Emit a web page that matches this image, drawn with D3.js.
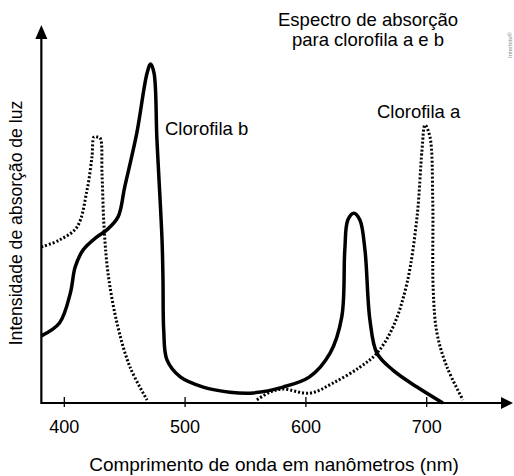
<!DOCTYPE html>
<html>
<head>
<meta charset="utf-8">
<script src="https://cdn.jsdelivr.net/npm/d3@7"></script>
<style>
  body { margin: 0; background: #fff; }
  text { font-family: "Liberation Sans", Arial, sans-serif; fill: #000; }
</style>
</head>
<body>
<div id="chart"></div>
<script>
// wavelength (nm) and relative absorption
const chlBWave = [381, 396, 405, 409, 415.5, 427, 435, 444.5, 450, 460, 468.5, 471.5, 474.3, 476.7, 480.9, 481.7, 482.3, 485, 496, 515, 537, 554, 581, 603, 620, 629.7, 632.2, 634.7, 639.7, 644.7, 648.9, 653, 658.8, 672, 692, 713.4];
const chlBValue = [19.8, 23.6, 32.4, 40.1, 45.1, 49, 51, 54.9, 63.7, 79.6, 97.3, 100, 97.3, 77.6, 48.1, 36.3, 21.5, 12.7, 7.7, 4.7, 3.2, 2.9, 4.7, 7.7, 14.7, 25.4, 45.1, 54, 56, 54, 45.1, 24.5, 14.7, 9.7, 4.7, 0];

const chlAWave = [381, 396, 410.5, 418.8, 422.9, 424.6, 426.8, 429.6, 431.2, 432.9, 436.2, 443.6, 454.4, 468.5, null, 559.5, 570.3, 581.1, 603.4, 622.5, 644.8, 658.8, 672.1, 683.7, 692, 696.1, 698.6, 702.7, 705, 705.4, 708.5, 716.8, 730];
const chlAValue = [46, 48.1, 51.9, 62.8, 72.6, 78.5, 78.5, 78.2, 67.8, 51.9, 38.3, 23.6, 10.6, 0.9, null, 0.9, 3.2, 4.1, 2.9, 5.9, 10.6, 14.7, 22.4, 35.4, 54.9, 74.6, 82, 78.5, 59.9, 33.3, 20.6, 10.6, 0.9];

const xTicks = [400, 500, 600, 700];

const width = 514, height = 476;
const svg = d3.select("#chart").append("svg")
    .attr("width", width)
    .attr("height", height);

const x = d3.scaleLinear().domain([400, 700]).range([64.3, 426.7]);
const y = d3.scaleLinear().domain([0, 100]).range([403, 64]);

const x0 = x(381), y0 = y(0);

// curves
const line = d3.line()
    .defined(d => d[0] != null)
    .x(d => x(d[0]))
    .y(d => y(d[1]))
    .curve(d3.curveCatmullRom.alpha(0.5));

svg.append("path")
    .datum(chlAWave.map((w, i) => [w, chlAValue[i]]))
    .attr("d", line)
    .attr("fill", "none")
    .attr("stroke", "#000")
    .attr("stroke-width", 3)
    .attr("stroke-dasharray", "2,2");

svg.append("path")
    .datum(chlBWave.map((w, i) => [w, chlBValue[i]]))
    .attr("d", line)
    .attr("fill", "none")
    .attr("stroke", "#000")
    .attr("stroke-width", 3.5)
    .attr("stroke-linejoin", "round");

// axes with arrows
svg.append("line")
    .attr("x1", x0).attr("y1", y0)
    .attr("x2", 505).attr("y2", y0)
    .attr("stroke", "#000").attr("stroke-width", 2.2);
svg.append("path")
    .attr("d", `M513,${y0} L501,${y0 - 6} L501,${y0 + 6} Z`)
    .attr("fill", "#000");

svg.append("line")
    .attr("x1", x0).attr("y1", y0 + 1)
    .attr("x2", x0).attr("y2", 36)
    .attr("stroke", "#000").attr("stroke-width", 2.2);
svg.append("path")
    .attr("d", `M${x0},25 L${x0 - 6},39 L${x0 + 6},39 Z`)
    .attr("fill", "#000");

const ticks = svg.append("g");
ticks.selectAll("line")
    .data(xTicks)
    .enter().append("line")
    .attr("x1", d => x(d)).attr("x2", d => x(d))
    .attr("y1", y0 - 6).attr("y2", y0 + 4)
    .attr("stroke", "#000").attr("stroke-width", 1.3);
ticks.selectAll("text")
    .data(xTicks)
    .enter().append("text")
    .attr("x", d => x(d))
    .attr("y", 433)
    .attr("text-anchor", "middle")
    .style("font-size", "18px")
    .text(d => d);

// labels
svg.append("text")
    .attr("x", 274).attr("y", 471)
    .attr("text-anchor", "middle")
    .style("font-size", "19px")
    .text("Comprimento de onda em nanômetros (nm)");

svg.append("text")
    .attr("transform", "translate(22,223) rotate(-90)")
    .attr("text-anchor", "middle")
    .style("font-size", "17.6px")
    .text("Intensidade de absorção de luz");

svg.append("text")
    .attr("x", 368).attr("y", 26)
    .attr("text-anchor", "middle")
    .style("font-size", "18.5px")
    .text("Espectro de absorção");
svg.append("text")
    .attr("x", 368).attr("y", 46)
    .attr("text-anchor", "middle")
    .style("font-size", "18.5px")
    .text("para clorofila a e b");

svg.append("text")
    .attr("x", 165).attr("y", 135)
    .style("font-size", "18.5px")
    .text("Clorofila b");
svg.append("text")
    .attr("x", 377).attr("y", 118)
    .style("font-size", "18.5px")
    .text("Clorofila a");

svg.append("text")
    .attr("transform", "translate(512,58) rotate(-90)")
    .style("font-size", "6px")
    .style("fill", "#888")
    .text("Interbits®");
</script>
</body>
</html>
